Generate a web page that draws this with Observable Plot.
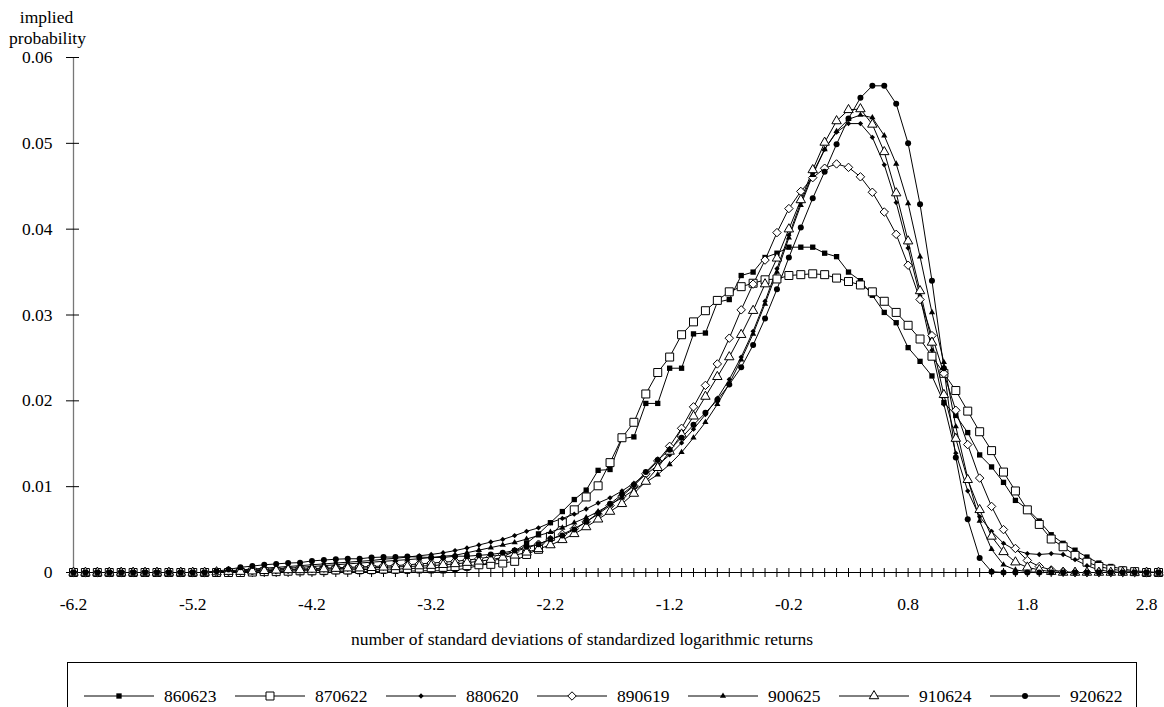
<!DOCTYPE html>
<html><head><meta charset="utf-8">
<script src="https://cdn.jsdelivr.net/npm/d3@7"></script>
<script src="https://cdn.jsdelivr.net/npm/@observablehq/plot@0.6"></script>
<style>
html,body{margin:0;padding:0;background:#fff;}
#chart{position:relative;width:1164px;height:707px;overflow:hidden;font-family:'Liberation Serif',serif;}
#chart > svg{position:absolute;left:0;top:0;font-family:'Liberation Serif',serif !important;}
#chart svg text{font-family:'Liberation Serif',serif !important;}
#legend{position:absolute;left:67px;top:662px;width:1070px;height:70px;border:1px solid #000;box-sizing:border-box;background:#fff;}
#legend svg{position:absolute;left:0;top:0;}
</style>
</head><body>
<div id="chart"></div>
<script>
// category axis: standardized log returns, -6.2 ... 2.9 in steps of 0.1
const xs = d3.range(-62, 30).map(i => i / 10);
const xTickLabels = ["-6.2","-5.2","-4.2","-3.2","-2.2","-1.2","-0.2","0.8","1.8","2.8"];
const yTickLabels = ["0","0.01","0.02","0.03","0.04","0.05","0.06"];
const seriesNames = ["860623","870622","880620","890619","900625","910624","920622"];

// rows of 10 values: -6.2..-5.3 | -5.2..-4.3 | -4.2..-3.3 | -3.2..-2.3 | -2.2..-1.3 | -1.2..-0.3 | -0.2..0.7 | 0.8..1.7 | 1.8..2.7 | 2.8,2.9
const s860623 = [
0,0,0,0,0,0,0,0,0,0,
0,0,0,0,0,0,0,0,0,0,
0,0,.0001,.0001,.0001,.0001,.00015,.00015,.00015,.0002,
.0002,.0002,.0003,.0005,.0008,.0012,.0018,.0025,.0034,.0045,
.0058,.0071,.0085,.0096,.0119,.0120,.0156,.0158,.0197,.0197,
.0238,.0238,.0278,.0279,.0315,.0318,.0346,.0350,.0367,.0372,
.0379,.0379,.0379,.0372,.0368,.0350,.0340,.0323,.0303,.0291,
.0262,.0246,.0229,.0198,.0183,.0163,.0137,.0123,.0105,.0084,
.0074,.0060,.0044,.0034,.0026,.0018,.0011,.0007,.0004,.0002,
.0001,0];
const s870622 = [
0,0,0,0,0,0,0,0,0,0,
0,0,0,0,0,.00005,.0001,.0001,.00015,.0002,
.0002,.00025,.0003,.0003,.00035,.00035,.0004,.0004,.00045,.0005,
.00055,.0006,.0007,.0008,.0009,.00095,.0011,.0013,.0021,.0027,
.0042,.0058,.0073,.0088,.0101,.0128,.0157,.0175,.0208,.0233,
.0251,.0277,.0292,.0305,.0317,.0327,.0333,.0337,.0341,.0342,
.0346,.0347,.0348,.0347,.0343,.0339,.0335,.0327,.0316,.0303,
.0288,.0272,.0252,.0232,.0212,.0188,.0164,.0142,.0117,.0095,
.0073,.0056,.0039,.0030,.0020,.0012,.0007,.0004,.0002,.0001,
0,0];
const s880620 = [
0,0,0,0,0,0,0,0,0,0,
0,0,.0001,.0002,.0003,.0004,.0005,.0006,.0007,.0008,
.0009,.0010,.0011,.0012,.0013,.0014,.00155,.00165,.0018,.00195,
.0021,.0023,.00255,.00285,.0032,.00355,.00385,.0043,.0048,.0052,
.0058,.0063,.0068,.0074,.0081,.0087,.0095,.0104,.0114,.0125,
.0137,.0151,.0167,.0184,.0203,.0225,.0251,.0281,.0316,.0354,
.0393,.0431,.0465,.0493,.0513,.0523,.0523,.0507,.0475,.0431,
.0378,.0322,.0259,.0196,.0139,.0095,.0065,.0048,.0034,.0026,
.0022,.0021,.0022,.0021,.0015,.0008,.0003,.0001,0,0,
0,0];
const s890619 = [
0,0,0,0,0,0,0,0,0,0,
0,0,.00005,.0001,.00015,.0002,.00025,.0003,.00035,.0004,
.00045,.0005,.00055,.0006,.00065,.0007,.00075,.0008,.0009,.0010,
.0011,.0012,.0013,.00145,.0016,.00185,.0021,.00245,.00285,.0033,
.00385,.00445,.0051,.0059,.0068,.0078,.0089,.0101,.0115,.0130,
.0147,.0168,.0193,.0218,.0243,.0273,.0306,.0336,.0364,.0396,
.0424,.0444,.0460,.0471,.0476,.0472,.0461,.0443,.0420,.0394,
.0358,.0318,.0276,.0232,.0189,.0149,.0110,.0077,.0050,.0028,
.0014,.0007,.0003,.0001,0,0,0,0,0,0,
0,0];
const s900625 = [
0,0,0,0,0,0,0,0,0,0,
0,0,.0001,.00015,.0002,.0003,.00035,.00045,.0005,.0006,
.0007,.0008,.0009,.0010,.0011,.0012,.0013,.0014,.0015,.0016,
.00175,.0019,.0020,.0023,.0026,.0029,.0032,.0035,.0039,.0043,
.0047,.0052,.0058,.0064,.0071,.0079,.0087,.0096,.0105,.0114,
.0126,.0140,.0157,.0175,.0196,.0220,.0248,.0278,.0313,.0350,
.0390,.0428,.0463,.0493,.0514,.0528,.0533,.0530,.0509,.0476,
.0430,.0368,.0303,.0245,.0170,.0110,.0060,.0027,.0009,.0003,
.0001,0,0,0,0,0,0,0,0,0,
0,0];
const s910624 = [
0,0,0,0,0,0,0,0,0,0,
0,0,.00005,.0001,.0001,.00015,.0002,.00025,.0003,.0003,
.00035,.0004,.00045,.0005,.0005,.00055,.0006,.00065,.0007,.00075,
.0008,.0009,.0010,.00115,.0013,.0015,.00175,.0020,.00235,.00275,
.0032,.0038,.0045,.0053,.0062,.0071,.0080,.0092,.0106,.0122,
.0141,.0161,.0182,.0205,.0228,.0251,.0277,.0305,.0336,.0366,
.0400,.0434,.0469,.0501,.0526,.0539,.0540,.0522,.0490,.0442,
.0386,.0328,.0268,.0207,.0156,.0108,.0073,.0042,.0024,.0012,
.0006,.0003,.0001,0,0,0,0,0,0,0,
0,0];
const s920622 = [
0,0,0,0,0,0,0,0,0,0,
0,0,.00015,.00035,.0006,.00075,.0009,.0010,.0011,.00115,
.00135,.00145,.00155,.0016,.0016,.00175,.0018,.0018,.00185,.0018,
.00175,.00175,.0019,.0019,.0020,.0021,.0023,.00255,.0030,.0033,
.0039,.0043,.0050,.0059,.0069,.0080,.0091,.0102,.0117,.0131,
.0143,.0157,.0172,.0186,.0201,.0219,.0239,.0265,.0296,.0330,
.0367,.0402,.0436,.0467,.0499,.0529,.0553,.0567,.0567,.0546,
.0500,.0429,.0340,.0238,.0134,.0062,.0017,.0001,0,0,
0,0,0,0,0,0,0,0,0,0,
0,0];

const seriesValues = [s860623, s870622, s880620, s890619, s900625, s910624, s920622];
const markerStyles = [
  {symbol: "square",   fill: "#000", r: 3.0},
  {symbol: "square",   fill: "#fff", r: 4.5},
  {symbol: "diamond2", fill: "#000", r: 2.4},
  {symbol: "diamond2", fill: "#fff", r: 3.8},
  {symbol: "triangle", fill: "#000", r: 2.3},
  {symbol: "triangle", fill: "#fff", r: 3.5},
  {symbol: "circle",   fill: "#000", r: 3.0}
];

const rows = seriesNames.flatMap((name, j) => xs.map((x, i) => ({series: name, x, y: seriesValues[j][i]})));
const yTicks = yTickLabels.map(Number);
const xLabelTicks = xTickLabels.map(Number);
const FONT = "Liberation Serif, serif";
const FS = 17.5;

const H = 655;
const lineMarks = seriesNames.map(name =>
  Plot.line(rows.filter(d => d.series === name), {x: "x", y: "y", stroke: "#000", strokeWidth: 1}));
const dotMarks = seriesNames.map((name, j) => {
  const st = markerStyles[j];
  return Plot.dot(rows.filter(d => d.series === name), {
    x: "x", y: "y", symbol: st.symbol, r: st.r, fill: st.fill,
    stroke: st.fill === "#fff" ? "#000" : "none", strokeWidth: 1
  });
});

const svg = Plot.plot({
  width: 1164, height: H,
  marginLeft: 73, marginRight: 6, marginTop: 57, marginBottom: H - 572,
  style: {fontFamily: FONT, fontSize: FS + "px", color: "#000", background: "transparent", overflow: "visible"},
  x: {domain: [xs[0], xs[xs.length - 1]], axis: null},
  y: {domain: [0, 0.06], axis: null},
  marks: [
    Plot.ruleX([xs[0]], {y1: 0, y2: yTicks[yTicks.length - 1], stroke: "#777", strokeWidth: 1.3}),
    Plot.axisY({ticks: yTicks, anchor: "left", label: null, tickSize: 13, dx: 6, tickFormat: () => "", stroke: "#000"}),
    Plot.axisY({ticks: yTicks, anchor: "left", label: null, tickSize: 7, tickPadding: 14, tickFormat: (d, i) => yTickLabels[i], stroke: "none", fontFamily: FONT, fontSize: FS}),
    Plot.ruleY([0], {stroke: "#000", strokeWidth: 1}),
    Plot.axisX({ticks: xs, anchor: "bottom", label: null, tickSize: 9, dy: -4, tickFormat: () => "", stroke: "#000"}),
    Plot.axisX({ticks: xLabelTicks, anchor: "bottom", label: null, tickSize: 5, tickPadding: 20, tickFormat: (d, i) => xTickLabels[i], stroke: "none", fontFamily: FONT, fontSize: FS}),
    ...lineMarks,
    ...dotMarks,
    Plot.text(["number of standard deviations of standardized logarithmic returns"], {frameAnchor: "bottom", dx: -34, dy: 67, fontSize: FS, fontFamily: FONT, lineAnchor: "middle"}),
    Plot.text(["implied"], {frameAnchor: "top-left", dx: -27, dy: -40, fontSize: FS, fontFamily: FONT, textAnchor: "middle", lineAnchor: "middle"}),
    Plot.text(["probability"], {frameAnchor: "top-left", dx: -26, dy: -19, fontSize: FS, fontFamily: FONT, textAnchor: "middle", lineAnchor: "middle"})
  ]
});
document.getElementById("chart").appendChild(svg);

// legend below the plot
const legend = d3.select("#chart").append("div").attr("id", "legend");
const ls = legend.append("svg").attr("width", 1070).attr("height", 70)
  .style("font-family", FONT).style("font-size", FS + "px");
const ox = 68, oy = 663, ly = 696;
const symMap = {square: d3.symbolSquare, diamond2: d3.symbolDiamond2, triangle: d3.symbolTriangle, circle: d3.symbolCircle};
seriesNames.forEach((name, k) => {
  const st = markerStyles[k];
  const x0 = 84 + 151 * k - ox;
  ls.append("line").attr("x1", x0).attr("x2", x0 + 70).attr("y1", ly - oy).attr("y2", ly - oy)
    .attr("stroke", "#000").attr("stroke-width", 1);
  ls.append("path").attr("d", d3.symbol(symMap[st.symbol], Math.PI * st.r * st.r)())
    .attr("transform", `translate(${x0 + 35},${ly - oy})`)
    .attr("fill", st.fill).attr("stroke", st.fill === "#fff" ? "#000" : "none");
  ls.append("text").attr("x", x0 + 80).attr("y", ly - oy).attr("dy", "0.35em").text(name);
});
</script>
</body></html>
